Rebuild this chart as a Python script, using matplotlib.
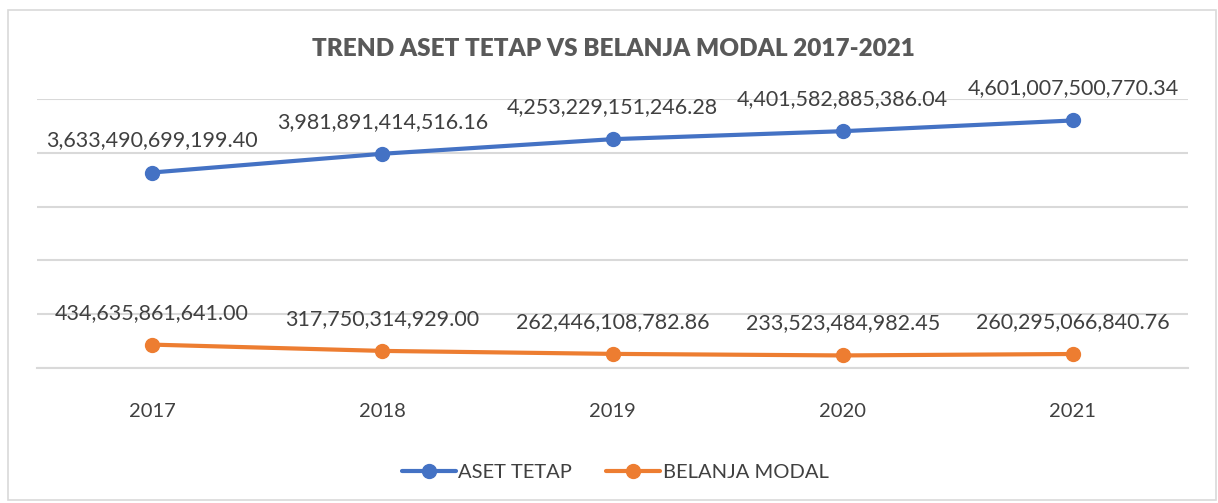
import matplotlib.pyplot as plt
from matplotlib.patches import Rectangle

# ==============================
# Data
# ==============================

years = ["2017", "2018", "2019", "2020", "2021"]

aset_tetap = [
    3633490699199.40,
    3981891414516.16,
    4253229151246.28,
    4401582885386.04,
    4601007500770.34,
]

belanja_modal = [
    434635861641.00,
    317750314929.00,
    262446108782.86,
    233523484982.45,
    260295066840.76,
]

blue = "#4472c4"
orange = "#ed7d31"
text_col = "#404040"
grid_col = "#d9d9d9"

plt.rcParams["font.family"] = ["Lato", "DejaVu Sans"]

# ==============================
# Figure
# ==============================

fig = plt.figure(figsize=(12.18, 5.03), dpi=100)

fig.patches.append(
    Rectangle(
        (8 / 1218, 3 / 503),
        1208 / 1218,
        490 / 503,
        transform=fig.transFigure,
        fill=False,
        edgecolor="#d9d9d9",
        linewidth=1.2,
    )
)

ax = fig.add_axes([37 / 1218, 135 / 503, 1151 / 1218, 269 / 503])

x = list(range(len(years)))

ax.plot(x, aset_tetap, color=blue, linewidth=3, marker="o",
        markersize=10, label="ASET TETAP", solid_capstyle="round")
ax.plot(x, belanja_modal, color=orange, linewidth=3, marker="o",
        markersize=10, label="BELANJA MODAL", solid_capstyle="round")

for xi, v in zip(x, aset_tetap):
    ax.annotate(f"{v:,.2f}", (xi, v), xytext=(0, 23),
                textcoords="offset points", ha="center", va="center",
                fontsize=15.5, color=text_col)

for xi, v in zip(x, belanja_modal):
    ax.annotate(f"{v:,.2f}", (xi, v), xytext=(0, 23),
                textcoords="offset points", ha="center", va="center",
                fontsize=15.5, color=text_col)

ax.set_xlim(-0.5, 4.5)
ax.set_ylim(0, 5e12)
ax.set_yticks([i * 1e12 for i in range(6)])
ax.set_yticklabels([])
ax.set_xticks(x)
ax.set_xticklabels(years, fontsize=14.5, color=text_col)
ax.tick_params(axis="both", length=0)
ax.tick_params(axis="x", pad=25)

ax.grid(axis="y", color=grid_col, linewidth=1.5)
ax.set_axisbelow(True)
for side in ["top", "right", "left"]:
    ax.spines[side].set_visible(False)
ax.spines["bottom"].set_color(grid_col)
ax.spines["bottom"].set_linewidth(1.5)

fig.text(613 / 1218, 1 - 49 / 503, "TREND ASET TETAP VS BELANJA MODAL 2017-2021",
         ha="center", va="center", fontsize=17.5, fontweight="heavy",
         color="#595959")

fig.legend(loc="center", bbox_to_anchor=(615 / 1218, 1 - 472 / 503),
           ncol=2, frameon=False, fontsize=14.5, labelcolor=text_col,
           handlelength=2.7, columnspacing=1.7, handletextpad=0.1,
           borderpad=0, borderaxespad=0)

fig.savefig("out.png", dpi=100)
